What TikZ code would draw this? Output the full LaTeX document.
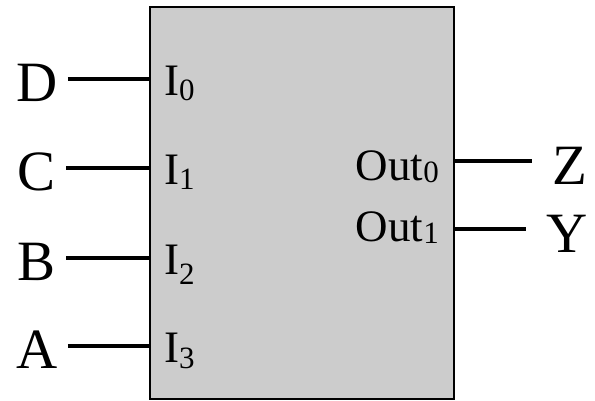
\documentclass[tikz,border=0pt]{standalone}
\usepackage{fontspec}
\setmainfont{Liberation Serif}
\usepackage{tikz}
\usetikzlibrary{positioning, calc}
\definecolor{boxgray}{HTML}{CCCCCC}
\newcommand{\pinsub}[2]{\raisebox{-#1pt}{\fontsize{31}{31}\selectfont #2}}

\begin{document}
\begin{tikzpicture}[x=1pt, y=-1pt,
    sig/.style={inner sep=0pt, font=\fontsize{57}{57}\selectfont},
    pin/.style={inner sep=0pt, font=\fontsize{45}{45}\selectfont},
    wire/.style={line width=3.6pt}]
  \useasboundingbox (0,0) rectangle (595,400);
  \node[draw=black, line width=1.5pt, fill=boxgray, inner sep=0pt,
        minimum width=304pt, minimum height=392pt] (mux) at (302,203) {};
  % inputs
  \foreach \s/\k/\y/\d in {D/0/79/5, C/1/168/5, B/2/258/10, A/3/346/6} {
    \coordinate (in\k) at (150,\y);
    \node[sig] (\s) at (37,\y+4) {\s};
    \node[pin, anchor=base west] (I\k) at (164,\y+16) {I\pinsub{\d}{\k}};
    \draw[wire] ($(in\k -| \s.east)+(10,0)$) -- (in\k);
  }
  % outputs
  \foreach \s/\k/\y/\b/\x in {Z/0/161/180/570, Y/1/229/241/567} {
    \coordinate (out\k) at (454,\y);
    \node[sig] (\s) at (\x,\y+5) {\s};
    \node[pin, anchor=base east] (O\k) at (439,\b) {Out\pinsub{2}{\k}};
    \draw[wire] (out\k) -- ($(out\k -| \s.west)+(-20,0)$);
  }
\end{tikzpicture}
\end{document}
